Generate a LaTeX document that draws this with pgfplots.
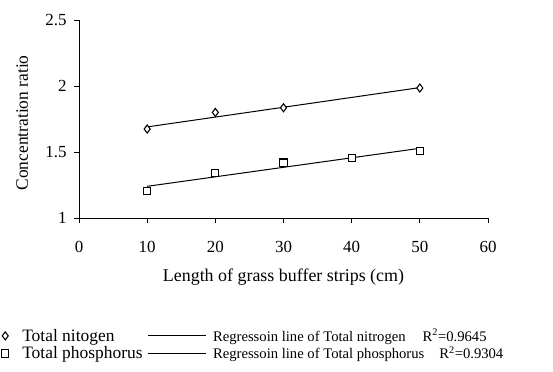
\documentclass[border=0pt]{standalone}
\usepackage{fontspec}
\setmainfont{Liberation Serif}
\usepackage{pgfplots}
\pgfplotsset{compat=1.18}
\pgfplotsset{
  markleg/.style={legend image code/.code={\draw[mark repeat=1,mark phase=1,##1] plot coordinates {(5bp,0bp)};\path[draw=none,fill=none] (0bp,0bp) -- (20bp,0bp);}},
  lineleg/.style={legend image code/.code={\draw[##1] (0bp,0bp) -- (58bp,0bp);\path[draw=none,fill=none] (0bp,0bp) -- (63bp,0bp);}},
}
\newcommand{\legtwo}{\fontsize{14.7}{18}\selectfont}
\begin{document}
\begin{tikzpicture}[x=1bp,y=1bp]
\useasboundingbox (0,0) rectangle (553,371);
\begin{axis}[
  at={(79bp,153bp)}, anchor=south west,
  scale only axis, width=409bp, height=198bp,
  xmin=0, xmax=60, ymin=1, ymax=2.5,
  axis lines*=left,
  xtick={0,10,20,30,40,50,60}, ytick={1,1.5,2,2.5},
  yticklabels={1,1.5,2,2.5},
  tick align=outside, major tick length=5bp,
  tick style={black, line width=0.9bp},
  axis line style={black, line width=0.9bp},
  ticklabel style={font=\fontsize{17}{19}\selectfont},
  /pgf/number format/assume math mode=true,
  xticklabel style={yshift=-15bp},
  yticklabel style={xshift=-4bp},
  xlabel={Length of grass buffer strips (cm)},
  ylabel={Concentration ratio},
  xlabel style={font=\fontsize{18}{20}\selectfont, at={(axis description cs:0.5,-0.298)}, anchor=center},
  ylabel style={font=\fontsize{17.5}{20}\selectfont, at={(axis description cs:-0.139,0.48)}, anchor=center},
  clip=false,
  legend columns=2,
  legend cell align=left,
  legend style={at={(axis description cs:-0.193,-0.55)}, anchor=north west,
    draw=none, fill=none, font=\fontsize{17.5}{19}\selectfont,
    inner sep=0pt, row sep=0pt,
    /tikz/every odd column/.append style={column sep=0bp},
    /tikz/every even column/.append style={column sep=3bp}},
]
\addplot[only marks, mark=diamond*, mark size=4bp, mark options={fill=white, draw=black, line width=1.1bp}, markleg]
  coordinates {(10,1.674) (20,1.80) (30,1.835) (50,1.985)};
\addlegendentry{Total nitogen}
\addplot[black, line width=1bp, mark=none, lineleg]
  coordinates {(10,1.69) (50,1.988)};
\addlegendentry{\legtwo Regressoin line of Total nitrogen\hspace{17bp}R\textsuperscript{2}=0.9645}
\addplot[only marks, mark=square*, mark size=3.6bp, mark options={fill=white, draw=black, line width=1.1bp}, markleg]
  coordinates {(10,1.205) (20,1.34) (30,1.42) (40,1.455) (50,1.508)};
\addlegendentry{Total phosphorus}
\addplot[black, line width=1bp, mark=none, lineleg]
  coordinates {(10,1.24) (50,1.528)};
\addlegendentry{\legtwo Regressoin line of Total phosphorus\hspace{15bp}R\textsuperscript{2}=0.9304}
\end{axis}
\end{tikzpicture}
\end{document}
